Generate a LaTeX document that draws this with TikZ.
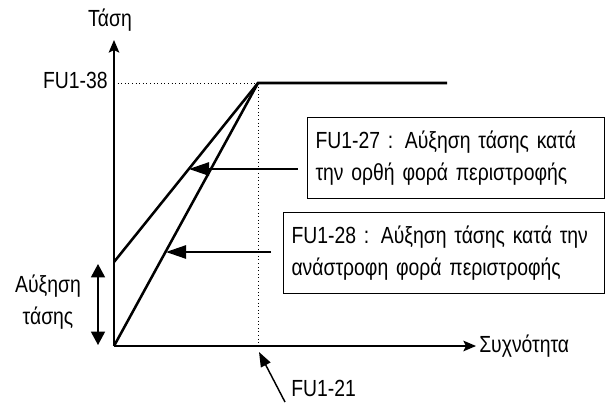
\documentclass[tikz,border=0pt]{standalone}
\usepackage{fontspec}
\setmainfont[FakeStretch=0.83]{Liberation Sans}
\usetikzlibrary{arrows.meta,positioning}

\begin{document}
\begin{tikzpicture}[x=0.75pt, y=-0.75pt,
    lbl/.style={font=\fontsize{17.5}{24}\selectfont, inner sep=0pt},
    note/.style={draw, line width=0.8pt, anchor=north west, align=left, font=\fontsize{17.5}{24}\selectfont, inner xsep=6pt, minimum height=60.75pt},
    axis/.style={line width=1.1pt, -{Stealth[length=9.5pt,width=8pt,inset=2pt]}},
    curve/.style={line width=1.9pt},
    guide/.style={dotted, line width=0.7pt},
    ptr/.style={line width=1.1pt, -{Triangle[length=15pt,width=10pt]}}
]
\useasboundingbox (0,0) rectangle (605,407);

% axes and characteristic points
\coordinate (O) at (114,346);
\coordinate (ytop) at (114,40);
\coordinate (xend) at (476,346);
\coordinate (apex) at (258,83);
\coordinate (ymax) at (114,83);
\coordinate (fbase) at (258,346);
\coordinate (boost) at (114,262);
\coordinate (flat) at (447,83);
\coordinate (hit1) at (189,169);
\coordinate (hit2) at (166,252);

\node[lbl] (vlabel) at (110,20) {Τάση};
\node[lbl, anchor=east] (vmax) at (108,80) {FU1-38};
\node[lbl, anchor=west] (flabel) at (479,346) {Συχνότητα};
\node[lbl, align=center] (boostlbl) at (48,302) {Αύξηση\\τάσης};
\node[lbl, anchor=west] (fbasel) at (291,388) {FU1-21};
\node[note, text width=210.75pt] (fwd) at (307,117) {FU1-27 : Αύξηση τάσης κατά\\την ορθή φορά περιστροφής};
\node[note, text width=228.75pt] (rev) at (283,212) {FU1-28 : Αύξηση τάσης κατά την\\ανάστροφη φορά περιστροφής};

\draw[guide] (ymax) -- (apex) -- (fbase);
\draw[axis] (O) -- (ytop);
\draw[axis] (O) -- (xend);
\draw[curve] (boost) -- (apex) -- (flat);
\draw[curve] (O) -- (apex);

\draw[ptr, shorten <=7pt] (fwd.west |- hit1) -- (hit1);
\draw[ptr, shorten <=9pt] (rev.west |- hit2) -- (hit2);

% boost range
\coordinate (btop) at (98,264);
\coordinate (bbot) at (98,345);
\draw[line width=1.1pt, {Triangle[length=10pt,width=10.5pt]}-{Triangle[length=10pt,width=10.5pt]}] (btop) -- (bbot);

\coordinate (ftail) at (285,402);
\coordinate (ftip) at (259,352);
\draw[line width=1.1pt, -{Triangle[length=11pt,width=8pt]}] (ftail) -- (ftip);
\end{tikzpicture}
\end{document}
